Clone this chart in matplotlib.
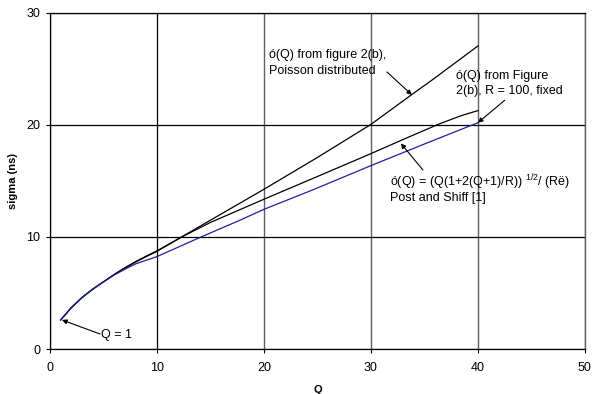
import matplotlib
matplotlib.use("Agg")
import matplotlib.pyplot as plt

plt.rcParams['font.family'] = ['Liberation Sans', 'DejaVu Sans']
plt.rcParams['mathtext.fontset'] = 'custom'
plt.rcParams['mathtext.rm'] = 'Liberation Sans'

# Data
q_poisson = [1, 1.5, 2, 2.5, 3, 4, 5, 6, 7, 8, 9, 10, 12.3, 15, 20, 25, 30, 33.8, 35.7, 40]
s_poisson = [2.6, 3.15, 3.7, 4.15, 4.6, 5.35, 6.0, 6.65, 7.25, 7.8, 8.3, 8.76, 10.0, 11.5, 14.26, 17.1, 20.05, 22.7, 24.0, 27.05]

q_fixed = [1, 1.5, 2, 2.5, 3, 4, 5, 6, 7, 8, 9, 10, 12.3, 15, 20, 25, 30, 33, 36.3, 38.5, 40]
s_fixed = [2.6, 3.15, 3.7, 4.15, 4.6, 5.35, 6.0, 6.65, 7.23, 7.76, 8.25, 8.72, 10.0, 11.3, 13.37, 15.4, 17.44, 18.7, 20.06, 20.85, 21.28]

q_post = [1, 1.5, 2, 2.5, 3, 4, 5, 6, 7, 8, 10, 12, 14, 17.76, 20, 24.6, 30, 35, 40]
s_post = [2.6, 3.15, 3.7, 4.15, 4.6, 5.35, 6.0, 6.6, 7.12, 7.6, 8.25, 9.1, 9.95, 11.5, 12.47, 14.22, 16.37, 18.3, 20.2]

x_ticks = [0, 10, 20, 30, 40, 50]
y_ticks = [0, 10, 20, 30]

fig = plt.figure(figsize=(5.92, 3.94), dpi=100)
ax = fig.add_axes([0.0845, 0.1142, 0.9035, 0.853])

ax.plot(q_poisson, s_poisson, color='black', lw=0.9, zorder=3)
ax.plot(q_fixed, s_fixed, color='black', lw=0.9, zorder=3)
ax.plot(q_post, s_post, color='#1f1fa0', lw=0.9, zorder=3)

ax.set_xlim(0, 50)
ax.set_ylim(0, 30)
ax.set_xticks(x_ticks)
ax.set_yticks(y_ticks)
ax.tick_params(direction='out', length=3, width=0.8, labelsize=9, colors='black')
ax.tick_params(axis='x', pad=6)
ax.tick_params(axis='y', pad=4)
ax.grid(axis='y', color='black', lw=0.9)
ax.grid(axis='x', color='#606060', lw=1.0)
ax.get_xgridlines()[1].set_color('black')
ax.get_xgridlines()[1].set_linewidth(0.9)
for sp in ['left', 'bottom', 'top']:
    ax.spines[sp].set_color('black')
    ax.spines[sp].set_linewidth(0.9)
ax.spines['right'].set_color('#606060')
ax.spines['right'].set_linewidth(1.0)

ax.set_xlabel('Q', fontsize=8, fontweight='bold', labelpad=8)
ax.set_ylabel('sigma (ns)', fontsize=8, fontweight='bold', labelpad=6)

arrow = dict(arrowstyle='-|>', color='black', lw=0.8, mutation_scale=7, shrinkA=0, shrinkB=0)

ax.annotate('ó(Q) from figure 2(b),\nPoisson distributed', xy=(33.83, 22.68), xytext=(20.47, 25.55),
            fontsize=9, va='center', ha='left', linespacing=1.4, zorder=5)
ax.annotate('', xy=(33.83, 22.68), xytext=(31.5, 24.73), arrowprops=arrow, zorder=5)

ax.annotate('ó(Q) from Figure\n2(b), R = 100, fixed', xy=(40, 20.2), xytext=(37.94, 23.7),
            fontsize=9, va='center', ha='left', linespacing=1.4, zorder=5)
ax.annotate('', xy=(40, 20.2), xytext=(42.5, 22.2), arrowprops=arrow, zorder=5)

ax.annotate('ó(Q) = (Q(1+2(Q+1)/R)) ' + r'$^{\mathregular{1/2}}$' + '/ (Rë)\nPost and Shiff [1]',
            xy=(32.8, 18.3), xytext=(31.78, 14.35),
            fontsize=9, va='center', ha='left', linespacing=1.1, zorder=5)
ax.annotate('', xy=(32.8, 18.35), xytext=(34.86, 15.98), arrowprops=arrow, zorder=5)

ax.annotate('Q = 1', xy=(1.12, 2.59), xytext=(4.8, 1.25),
            fontsize=9, va='center', ha='left', zorder=5)
ax.annotate('', xy=(1.12, 2.59), xytext=(4.67, 1.34), arrowprops=arrow, zorder=5)

fig.savefig('out.png', dpi=100)
